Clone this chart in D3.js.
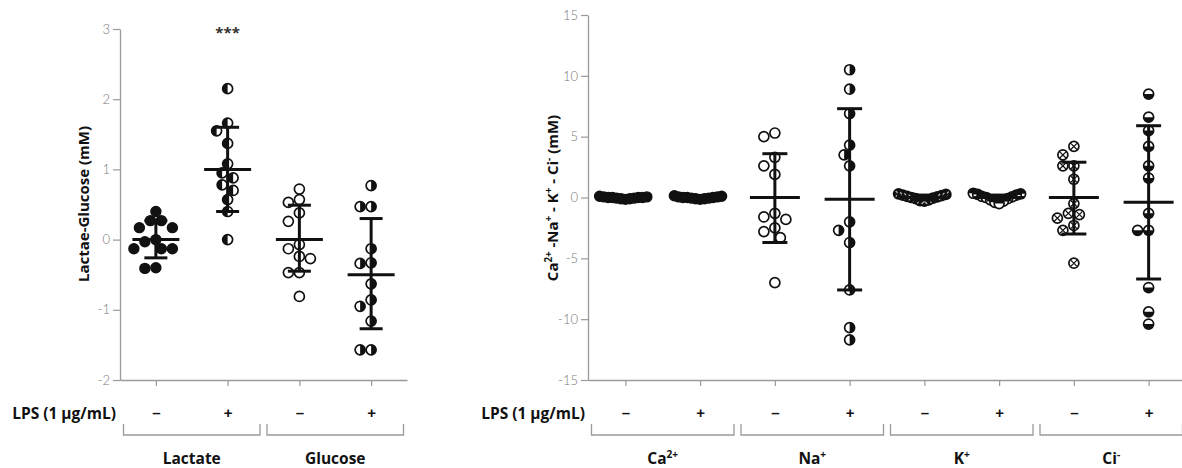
<!DOCTYPE html>
<html>
<head>
<meta charset="utf-8">
<script src="https://cdn.jsdelivr.net/npm/d3@7"></script>
<style>
  body { margin: 0; background: #fff; }
  svg { display: block; font-family: "Open Sans", "Lato", sans-serif; }
</style>
</head>
<body>
<div id="chart"></div>
<script>
// values (mM)

// left panel: lactate / glucose
var leftKeys = ["lac-", "lac+", "glu-", "glu+"];
var leftSigns = ["\u2013", "+", "\u2013", "+"];
var lactateMinus = [0.40, 0.27, 0.27, 0.17, 0.17, 0.0, -0.03, -0.13, -0.13, -0.13, -0.40, -0.41];
var lactatePlus = [2.15, 1.66, 1.55, 1.37, 1.08, 0.95, 0.88, 0.78, 0.70, 0.57, 0.40, 0.0];
var glucoseMinus = [0.72, 0.57, 0.53, 0.38, 0.26, -0.07, -0.13, -0.24, -0.27, -0.47, -0.47, -0.81];
var glucosePlus = [0.77, 0.47, 0.47, -0.13, -0.33, -0.34, -0.63, -0.86, -0.95, -1.16, -1.57, -1.57];
var leftMean = [0, 1.0, 0, -0.5];
var leftSdHi = [0.27, 1.6, 0.49, 0.30];
var leftSdLo = [-0.26, 0.4, -0.45, -1.27];
var leftTicks = [-2, -1, 0, 1, 2, 3];
var leftGroupNames = ["Lactate", "Glucose"];

// right panel: ions
var rightKeys = ["ca-", "ca+", "na-", "na+", "k-", "k+", "ci-", "ci+"];
var rightSigns = ["\u2013", "+", "\u2013", "+", "\u2013", "+", "\u2013", "+"];
var caMinus = [0.1, 0.05, 0.05, 0, 0, 0, 0, -0.05, -0.05, -0.1, -0.1, -0.15];
var caPlus = [0.15, 0.1, 0.05, 0.05, 0, 0, 0, -0.05, -0.05, -0.1, -0.1, -0.15];
var naMinus = [5.3, 5.0, 3.3, 2.6, 1.9, -1.3, -1.6, -1.8, -2.5, -2.8, -3.3, -7.0];
var naPlus = [10.5, 8.9, 6.9, 4.3, 3.5, 2.6, -2.0, -2.7, -3.7, -7.6, -10.7, -11.7];
var kMinus = [0.3, 0.25, 0.2, 0.15, 0.1, 0.05, 0, -0.05, -0.1, -0.2, -0.25, -0.3];
var kPlus = [0.35, 0.3, 0.25, 0.2, 0.1, 0.05, 0, -0.1, -0.2, -0.3, -0.4, -0.5];
var ciMinus = [4.2, 3.5, 2.6, 2.6, 1.5, -0.5, -1.3, -1.4, -1.7, -2.3, -2.7, -5.4];
var ciPlus = [8.5, 6.6, 5.5, 4.2, 2.6, 1.6, -1.3, -2.7, -2.7, -7.4, -9.4, -10.4];
var rightMean = [0, 0, 0, -0.15, 0, 0, 0, -0.4];
var rightSdHi = [0.1, 0.1, 3.6, 7.3, 0.2, 0.2, 2.9, 5.9];
var rightSdLo = [-0.1, -0.1, -3.7, -7.6, -0.2, -0.2, -3.0, -6.7];
var rightTicks = [-15, -10, -5, 0, 5, 10, 15];
var rightGroupNames = [[["Ca"], ["2+", 1]], [["Na"], ["+", 1]], [["K"], ["+", 1]], [["Ci"], ["-", 1]]];

var leftValues = [lactateMinus, lactatePlus, glucoseMinus, glucosePlus];
var rightValues = [caMinus, caPlus, naMinus, naPlus, kMinus, kPlus, ciMinus, ciPlus];

// marker look per group (not data)
var leftMarkers = ["filled", "halfLeft", "open", "halfRight"];
var rightMarkers = ["filled", "filled", "open", "halfRight", "crossDark", "halfTop", "cross", "halfBottom"];
var tightGroups = {"ca-": 1, "ca+": 1, "k-": 1, "k+": 1};

var W = 1182, H = 468;
var R = 5;
var axisCol = "#9a9a9a", tickTextCol = "#7a7a7a";

var svg = d3.select("#chart").append("svg")
        .attr("width", W)
        .attr("height", H);
svg.append("rect").attr("width", W).attr("height", H).attr("fill", "#fff");

var arc = d3.arc();

function marker(g, type, r) {
        var black = "#111";
        if (type == "filled") {
                g.append("circle").attr("r", r).attr("fill", black).attr("stroke", black).attr("stroke-width", 1.4);
                return;
        }
        g.append("circle").attr("r", r).attr("fill", type == "crossDark" ? "#111" : "#fff");
        var half = { halfLeft: [Math.PI, 2 * Math.PI], halfRight: [0, Math.PI],
                     halfTop: [-Math.PI / 2, Math.PI / 2], halfBottom: [Math.PI / 2, 3 * Math.PI / 2] }[type];
        if (half) {
                g.append("path")
                        .attr("d", arc({innerRadius: 0, outerRadius: r, startAngle: half[0], endAngle: half[1]}))
                        .attr("fill", black);
        }
        if (type == "cross" || type == "crossDark") {
                var k = r * 0.62;
                g.append("path")
                        .attr("d", "M" + (-k) + "," + (-k) + "L" + k + "," + k + "M" + (-k) + "," + k + "L" + k + "," + (-k))
                        .attr("stroke", type == "crossDark" ? "#bbb" : black).attr("stroke-width", 1.2);
        }
        g.append("circle").attr("r", r).attr("fill", "none").attr("stroke", black).attr("stroke-width", 1.7);
}

// push points sideways until they stop overlapping (column scatter)
function dodge(vals, y, minDist, step) {
        var placed = [];
        var order = vals.map(function(v, i) { return i; })
                        .sort(function(a, b) { return vals[b] - vals[a]; });
        var out = new Array(vals.length);
        order.forEach(function(i) {
                var py = y(vals[i]);
                for (var n = 0; n < 200; n++) {
                        var off = (n % 2 ? -1 : 1) * Math.ceil(n / 2) * step;
                        var ok = placed.every(function(p) {
                                var dx = p[0] - off, dy = p[1] - py;
                                return dx * dx + dy * dy >= minDist * minDist - 0.01;
                        });
                        if (ok) { placed.push([off, py]); out[i] = off; break; }
                }
        });
        return out;
}

// near-zero groups: one packed row, lowest values in the middle
function packedRow(vals, spacing) {
        var order = vals.map(function(v, i) { return i; })
                        .sort(function(a, b) { return vals[a] - vals[b]; });
        var out = new Array(vals.length);
        order.forEach(function(i, n) {
                out[i] = (n % 2 ? -1 : 1) * Math.ceil(n / 2) * spacing;
        });
        return out;
}

function richText(sel, parts, size) {
        parts.forEach(function(p) {
                if (p[1]) {
                        sel.append("tspan").attr("font-size", size * 0.65).attr("dy", -size * 0.38).text(p[0]);
                } else {
                        var t = sel.append("tspan").attr("font-size", size).text(p[0]);
                        if (sel.selectAll("tspan").size() > 1) t.attr("dy", size * 0.38);
                }
        });
}

function panel(opt) {
        var x = d3.scalePoint().domain(opt.keys).range(opt.xRange).padding(0.5);
        var y = d3.scaleLinear().domain(opt.yDomain).range(opt.yRange);
        var g = svg.append("g");

        // y axis
        var ya = g.append("g")
                .attr("transform", "translate(" + opt.xRange[0] + ",0)")
                .call(d3.axisLeft(y).tickValues(opt.yTicks).tickSize(7).tickSizeOuter(0).tickPadding(3)
                        .tickFormat(function(d) { return String(d); }));
        ya.select(".domain").attr("stroke", axisCol).attr("stroke-width", 1.3);
        ya.selectAll(".tick line").attr("stroke", axisCol).attr("stroke-width", 1.2);
        ya.selectAll(".tick text").attr("fill", tickTextCol).attr("font-size", 13)
                .attr("font-weight", 300).attr("font-family", "Lato, 'Open Sans', sans-serif");

        // x axis with -/+ under each tick
        var xa = g.append("g")
                .attr("transform", "translate(0," + opt.yRange[0] + ")")
                .call(d3.axisBottom(x).tickSize(6).tickSizeOuter(0)
                        .tickFormat(function(d, i) { return opt.signs[i]; }));
        xa.select(".domain").attr("stroke", axisCol).attr("stroke-width", 1.3);
        xa.selectAll(".tick line").attr("stroke", axisCol).attr("stroke-width", 1.2);
        xa.selectAll(".tick text").attr("y", 38).attr("dy", null)
                .attr("fill", "#111").attr("font-size", 15).attr("font-weight", 700);

        // LPS row label
        g.append("text")
                .attr("x", opt.lpsX).attr("y", 419)
                .attr("text-anchor", "end")
                .attr("font-size", 15.5).attr("font-weight", 700).attr("fill", "#111")
                .text("LPS (1 \u00b5g/mL)");

        // brackets + group names
        var step = x.step();
        opt.groupNames.forEach(function(name, j) {
                var c = (x(opt.keys[2 * j]) + x(opt.keys[2 * j + 1])) / 2;
                var x0 = c - step + 3.5, x1 = c + step - 3.5;
                g.append("path")
                        .attr("d", "M" + x0 + ",424V435H" + x1 + "V424")
                        .attr("fill", "none").attr("stroke", axisCol).attr("stroke-width", 1.3);
                var t = g.append("text")
                        .attr("x", c).attr("y", 464)
                        .attr("text-anchor", "middle")
                        .attr("font-weight", 700).attr("fill", "#111");
                if (typeof name == "string") t.attr("font-size", 15.5).text(name);
                else richText(t, name, 15.5);
        });

        // y title
        var yt = g.append("text")
                .attr("transform", "translate(" + opt.titleX + "," + opt.titleY + ") rotate(-90)")
                .attr("text-anchor", "middle")
                .attr("font-weight", 700).attr("fill", "#111");
        if (typeof opt.title == "string") yt.attr("font-size", 15).text(opt.title);
        else richText(yt, opt.title, 15);

        // points
        opt.keys.forEach(function(k, i) {
                var vals = opt.values[i];
                var offs = tightGroups[k] ? packedRow(vals, 4.3) : dodge(vals, y, 2 * R + 0.5, 5.5);
                vals.forEach(function(v, j) {
                        var m = g.append("g")
                                .attr("transform", "translate(" + (x(k) + offs[j]) + "," + y(v) + ")");
                        marker(m, opt.markers[i], R);
                });
        });

        // mean and SD bars
        opt.keys.forEach(function(k, i) {
                var cx = x(k);
                var lines = [
                        [cx, y(opt.sdLo[i]), cx, y(opt.sdHi[i])],
                        [cx - opt.meanHalf, y(opt.mean[i]), cx + opt.meanHalf, y(opt.mean[i])],
                        [cx - opt.capHalf, y(opt.sdHi[i]), cx + opt.capHalf, y(opt.sdHi[i])],
                        [cx - opt.capHalf, y(opt.sdLo[i]), cx + opt.capHalf, y(opt.sdLo[i])]
                ];
                g.selectAll(null).data(lines).enter().append("line")
                        .attr("x1", function(d) { return d[0]; })
                        .attr("y1", function(d) { return d[1]; })
                        .attr("x2", function(d) { return d[2]; })
                        .attr("y2", function(d) { return d[3]; })
                        .attr("stroke", "#111").attr("stroke-width", 3);
        });

        return {x: x, y: y, g: g};
}

var left = panel({
        keys: leftKeys, signs: leftSigns, values: leftValues, markers: leftMarkers,
        mean: leftMean, sdHi: leftSdHi, sdLo: leftSdLo,
        xRange: [120, 407], yDomain: [-2, 3], yRange: [380, 29], yTicks: leftTicks,
        lpsX: 116, groupNames: leftGroupNames,
        title: "Lactae-Glucose (mM)", titleX: 89, titleY: 204,
        meanHalf: 23.5, capHalf: 11.5
});

// significance mark
left.g.append("text")
        .attr("x", left.x("lac+")).attr("y", 38)
        .attr("text-anchor", "middle")
        .attr("font-size", 15).attr("font-weight", 700).attr("fill", "#333")
        .text("***");

panel({
        keys: rightKeys, signs: rightSigns, values: rightValues, markers: rightMarkers,
        mean: rightMean, sdHi: rightSdHi, sdLo: rightSdLo,
        xRange: [588, 1186], yDomain: [-15, 15], yRange: [380, 15], yTicks: rightTicks,
        lpsX: 585, groupNames: rightGroupNames,
        title: [["Ca"], ["2+", 1], [" -Na"], ["+", 1], [" - K"], ["+", 1], [" - Ci"], ["-", 1], [" (mM)"]],
        titleX: 558, titleY: 198,
        meanHalf: 25, capHalf: 12.5
});
</script>
</body>
</html>
